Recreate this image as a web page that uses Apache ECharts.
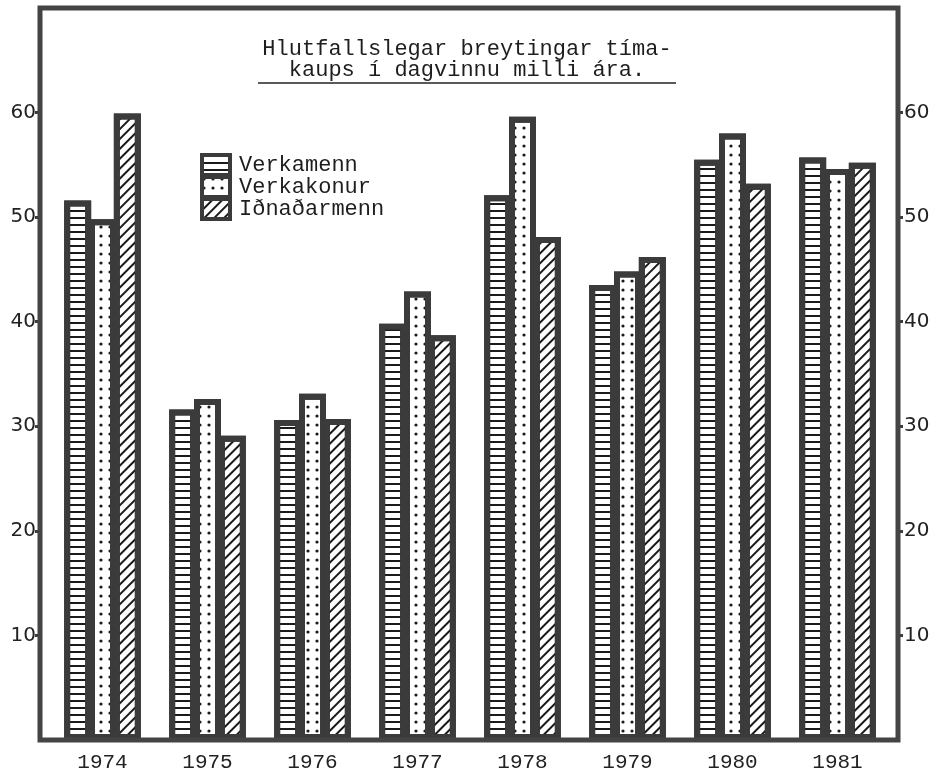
<!DOCTYPE html>
<html>
<head>
<meta charset="utf-8">
<title>Hlutfallslegar breytingar tímakaups</title>
<script src="https://cdn.jsdelivr.net/npm/echarts@6/dist/echarts.min.js"></script>
<style>
  html, body { margin: 0; padding: 0; background: #fff; }
  #main { width: 950px; height: 774px; }
</style>
</head>
<body>
<div id="main"></div>
<script>
// gögn lesin af myndinni (%)
var years = ['1974', '1975', '1976', '1977', '1978', '1979', '1980', '1981'];
var verkamenn = [51.6, 31.6, 30.6, 39.8, 52.1, 43.5, 55.5, 55.7];
var verkakonur = [49.8, 32.6, 33.1, 42.9, 59.6, 44.8, 58.0, 54.6];
var idnadarmenn = [59.9, 29.1, 30.7, 38.7, 48.1, 46.2, 53.2, 55.2];
var yTicks = [10, 20, 30, 40, 50, 60];

var myChart = echarts.init(document.getElementById('main'), null, { renderer: 'canvas' });

var edge = '#3b3b3b';
var ink = '#1a1a1a';

function barStyle(decal) {
  return {
    color: '#fff',
    borderColor: edge,
    borderWidth: 6,
    decal: decal
  };
}

var option = {
  backgroundColor: '#fff',
  animation: false,
  title: {
    text: 'Hlutfallslegar breytingar tíma-\nkaups í dagvinnu milli ára.',
    left: 462,
    top: 34,
    textAlign: 'center',
    textStyle: {
      fontFamily: 'Liberation Mono',
      fontWeight: 'normal',
      fontSize: 22,
      lineHeight: 21,
      color: '#1e1e1e'
    }
  },
  legend: {
    orient: 'vertical',
    left: 195,
    top: 148,
    itemWidth: 28,
    itemHeight: 20,
    itemGap: -2,
    icon: 'rect',
    data: ['Verkamenn', 'Verkakonur', 'Iðnaðarmenn'],
    itemStyle: { borderColor: edge, borderWidth: 4 },
    textStyle: {
      fontFamily: 'Liberation Mono',
      fontSize: 22,
      lineHeight: 20,
      color: '#1e1e1e',
      padding: [0, 0, 0, 4]
    }
  },
  grid: { left: 50, right: 60, top: 8, bottom: 34 },
  xAxis: {
    type: 'category',
    data: years,
    axisLine: { show: false },
    axisTick: { show: false },
    axisLabel: {
      margin: 12,
      fontFamily: 'Liberation Mono',
      fontSize: 21,
      color: '#222'
    }
  },
  yAxis: [{
    type: 'value',
    position: 'left',
    offset: 10,
    min: 0,
    max: 70,
    interval: 10,
    splitLine: { show: false },
    axisLine: { show: false },
    axisTick: { show: true, length: 5, customValues: yTicks, lineStyle: { color: edge, width: 3 } },
    axisLabel: { customValues: yTicks, margin: 4, fontFamily: 'DejaVu Sans', fontSize: 20, color: '#222' }
  }, {
    type: 'value',
    position: 'right',
    offset: 8,
    min: 0,
    max: 70,
    interval: 10,
    splitLine: { show: false },
    axisLine: { show: false },
    axisTick: { show: true, length: 5, customValues: yTicks, lineStyle: { color: edge, width: 3 } },
    axisLabel: { customValues: yTicks, margin: 6, fontFamily: 'DejaVu Sans', fontSize: 20, color: '#222' }
  }],
  series: [{
    name: 'Verkamenn',
    type: 'bar',
    barWidth: 27,
    barGap: '-8%',
    data: verkamenn,
    itemStyle: barStyle({
      color: ink,
      symbol: 'rect',
      symbolSize: 1,
      dashArrayX: [1, 0],
      dashArrayY: [1.5, 5]
    })
  }, {
    name: 'Verkakonur',
    type: 'bar',
    barWidth: 27,
    barGap: '-8%',
    data: verkakonur,
    itemStyle: barStyle({
      color: ink,
      symbol: 'circle',
      symbolSize: 0.8,
      dashArrayX: [4, 5],
      dashArrayY: [4, 5]
    })
  }, {
    name: 'Iðnaðarmenn',
    type: 'bar',
    barWidth: 27,
    barGap: '-8%',
    data: idnadarmenn,
    itemStyle: barStyle({
      color: ink,
      symbol: 'rect',
      symbolSize: 1,
      rotation: -Math.PI / 4,
      dashArrayX: [1, 0],
      dashArrayY: [1.5, 5]
    })
  }],
  graphic: [{
    // rammi
    type: 'rect',
    z: 100,
    shape: { x: 40, y: 8, width: 858, height: 732 },
    style: { fill: null, stroke: '#444', lineWidth: 5 }
  }, {
    // undirstrikun titils
    type: 'line',
    shape: { x1: 258, y1: 83, x2: 676, y2: 83 },
    style: { stroke: '#222', lineWidth: 1.5 }
  }]
};

myChart.setOption(option);
</script>
</body>
</html>
